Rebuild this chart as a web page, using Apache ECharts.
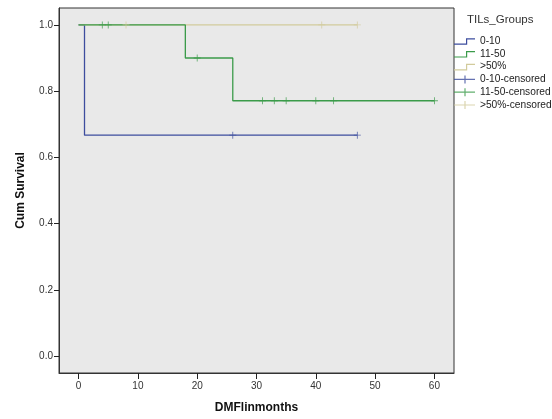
<!DOCTYPE html>
<html>
<head>
  <meta charset="utf-8">
  <title>ECharts</title>
  <script src="https://cdn.jsdelivr.net/npm/echarts@6/dist/echarts.min.js"></script>
  <style>
    html, body { margin: 0; padding: 0; background: #fff; }
  </style>
</head>
<body>
<div id="main" style="width: 552px;height:419px;"></div>
<script type="text/javascript">
  // survival curves (time, cum survival) per group
  var blueTimes = [0, 1, 47];
  var blueSurv = [1, 0.667, 0.667];
  var greenTimes = [0, 18, 26, 60];
  var greenSurv = [1, 0.9, 0.771, 0.771];
  var tanTimes = [0, 47];
  var tanSurv = [1, 1];

  // censored observations
  var blueCensorTimes = [26, 47];
  var blueCensorSurv = [0.667, 0.667];
  var greenCensorTimes = [4, 5, 20, 31, 33, 35, 40, 43, 60];
  var greenCensorSurv = [1, 1, 0.9, 0.771, 0.771, 0.771, 0.771, 0.771, 0.771];
  var tanCensorTimes = [8, 41, 47];
  var tanCensorSurv = [1, 1, 1];

  var groupNames = ['0-10', '11-50', '>50%', '0-10-censored', '11-50-censored', '>50%-censored'];
  var xTicks = [0, 10, 20, 30, 40, 50, 60];
  var yTicks = [0, 0.2, 0.4, 0.6, 0.8, 1.0];

  var blue = '#3d4d9e', green = '#3b9b4a', tan = '#d2cb9c';
  var font = 'Liberation Sans, Arial, sans-serif';

  function pairs(xs, ys) {
    return xs.map(function (x, i) { return [x, ys[i]]; });
  }

  var plusMark = 'path://M0,4.4H10V5.6H0Z M4.4,0H5.6V10H4.4Z';
  var stepIcon = 'path://M0,0 M22,10 M1,7.6H14V8.8H1Z M13,2.2H14.2V8.8H13Z M13,2.2H22V3.4H13Z';
  var plusIcon = 'path://M0,0 M22,10 M1,4.4H22V5.6H1Z M11.4,1H12.6V9H11.4Z';

  function stepSeries(name, xs, ys, color, z) {
    return {
      name: name, type: 'line', step: 'end', z: z,
      data: pairs(xs, ys),
      symbol: 'none', silent: true,
      lineStyle: { color: color, width: 1.3 },
      itemStyle: { color: color }
    };
  }
  function censorSeries(name, xs, ys, color, z) {
    return {
      name: name, type: 'scatter', z: z,
      data: pairs(xs, ys),
      symbol: plusMark, symbolSize: 7,
      itemStyle: { color: color }
    };
  }

  var chartDom = document.getElementById('main');
  var myChart = echarts.init(chartDom);
  var option = {
    animation: false,
    title: {
      text: 'TILs_Groups',
      left: 467, top: 14, padding: 0,
      textStyle: { fontFamily: font, fontSize: 11.5, fontWeight: 'normal', color: '#333' }
    },
    legend: {
      orient: 'vertical',
      left: 453, top: 36, padding: 0,
      itemWidth: 22, itemHeight: 10, itemGap: 2.8,
      textStyle: { fontFamily: font, fontSize: 10.2, color: '#222' },
      data: [
        { name: groupNames[0], icon: stepIcon },
        { name: groupNames[1], icon: stepIcon },
        { name: groupNames[2], icon: stepIcon },
        { name: groupNames[3], icon: plusIcon },
        { name: groupNames[4], icon: plusIcon },
        { name: groupNames[5], icon: plusIcon }
      ]
    },
    grid: {
      left: 59, top: 8, width: 395, height: 365,
      show: true, backgroundColor: '#e9e9e9', borderColor: '#333', borderWidth: 1
    },
    xAxis: {
      type: 'value', min: -3.3, max: 63.3,
      name: 'DMFlinmonths', nameLocation: 'middle', nameGap: 29,
      nameTextStyle: { fontFamily: font, fontSize: 12, fontWeight: 'bold', color: '#111' },
      axisLine: { show: true, onZero: false, lineStyle: { color: '#333' } },
      splitLine: { show: false },
      axisTick: { show: true, inside: false, length: 6, customValues: xTicks, lineStyle: { color: '#222', width: 1 } },
      axisLabel: { customValues: xTicks, fontFamily: font, fontSize: 10, color: '#333', margin: 8 }
    },
    yAxis: {
      type: 'value', min: -0.051, max: 1.051,
      name: 'Cum Survival', nameLocation: 'middle', nameGap: 32,
      nameTextStyle: { fontFamily: font, fontSize: 12, fontWeight: 'bold', color: '#111' },
      axisLine: { show: true, onZero: false, lineStyle: { color: '#333' } },
      splitLine: { show: false },
      axisTick: { show: true, inside: false, length: 5, customValues: yTicks, lineStyle: { color: '#222' } },
      axisLabel: {
        customValues: yTicks, fontFamily: font, fontSize: 10, color: '#333', margin: 6,
        formatter: function (v) { return v.toFixed(1); }
      }
    },
    series: [
      stepSeries(groupNames[0], blueTimes, blueSurv, blue, 2),
      stepSeries(groupNames[1], greenTimes, greenSurv, green, 4),
      stepSeries(groupNames[2], tanTimes, tanSurv, tan, 3),
      censorSeries(groupNames[3], blueCensorTimes, blueCensorSurv, blue, 5),
      censorSeries(groupNames[4], greenCensorTimes, greenCensorSurv, green, 6),
      censorSeries(groupNames[5], tanCensorTimes, tanCensorSurv, tan, 5)
    ]
  };
  option && myChart.setOption(option);
</script>
</body>
</html>
